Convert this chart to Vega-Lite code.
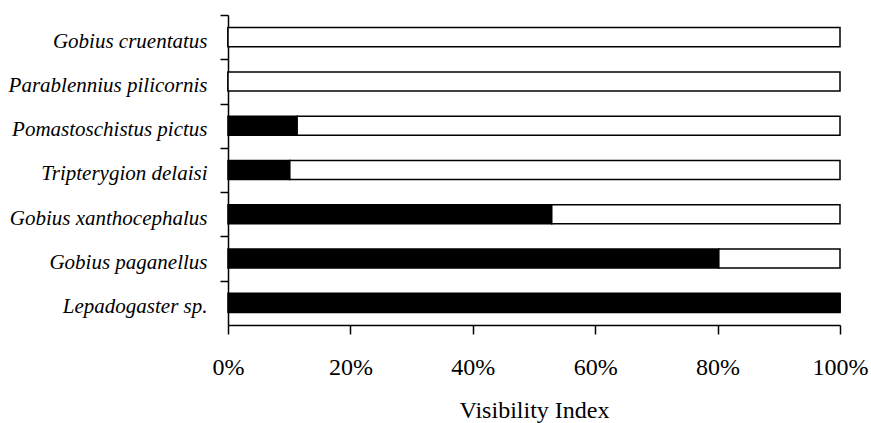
{
  "$schema": "https://vega.github.io/schema/vega-lite/v6.json",
  "autosize": "none",
  "width": 612,
  "height": 310,
  "padding": {"left": 228, "top": 15, "right": 31, "bottom": 98},
  "background": "white",
  "data": {
    "values": [
      {"species": "Gobius cruentatus", "part": "visible", "order": 1, "value": 0},
      {"species": "Gobius cruentatus", "part": "rest", "order": 2, "value": 100},
      {"species": "Parablennius pilicornis", "part": "visible", "order": 1, "value": 0},
      {"species": "Parablennius pilicornis", "part": "rest", "order": 2, "value": 100},
      {"species": "Pomastoschistus pictus", "part": "visible", "order": 1, "value": 11.3},
      {"species": "Pomastoschistus pictus", "part": "rest", "order": 2, "value": 88.7},
      {"species": "Tripterygion delaisi", "part": "visible", "order": 1, "value": 10.1},
      {"species": "Tripterygion delaisi", "part": "rest", "order": 2, "value": 89.9},
      {"species": "Gobius xanthocephalus", "part": "visible", "order": 1, "value": 52.9},
      {"species": "Gobius xanthocephalus", "part": "rest", "order": 2, "value": 47.1},
      {"species": "Gobius paganellus", "part": "visible", "order": 1, "value": 80.2},
      {"species": "Gobius paganellus", "part": "rest", "order": 2, "value": 19.8},
      {"species": "Lepadogaster sp.", "part": "visible", "order": 1, "value": 100},
      {"species": "Lepadogaster sp.", "part": "rest", "order": 2, "value": 0}
    ]
  },
  "mark": {"type": "bar", "stroke": "black", "strokeWidth": 1.5},
  "encoding": {
    "y": {
      "field": "species",
      "type": "nominal",
      "sort": null,
      "scale": {"paddingInner": 0.57, "paddingOuter": 0.285},
      "axis": {
        "title": null,
        "domainColor": "black",
        "domainWidth": 1.5,
        "ticks": true,
        "tickColor": "black",
        "tickWidth": 1.5,
        "tickSize": 8,
        "tickOffset": -22.14,
        "labelFont": "Liberation Serif",
        "labelFontStyle": "italic",
        "labelFontSize": 21,
        "labelColor": "black",
        "labelPadding": 13,
        "labelOffset": 26,
        "labelLimit": 300
      }
    },
    "x": {
      "field": "value",
      "type": "quantitative",
      "stack": "normalize",
      "scale": {"domain": [0, 1], "nice": false},
      "axis": {
        "title": "Visibility Index",
        "format": ".0%",
        "values": [0, 0.2, 0.4, 0.6, 0.8, 1],
        "grid": false,
        "labelFlush": false,
        "domainColor": "black",
        "domainWidth": 1.5,
        "tickColor": "black",
        "tickWidth": 1.5,
        "tickSize": 9,
        "labelFont": "Liberation Serif",
        "labelFontSize": 24,
        "labelColor": "black",
        "labelPadding": 21,
        "titleFont": "Liberation Serif",
        "titleFontSize": 24,
        "titleFontWeight": "normal",
        "titleColor": "black",
        "titlePadding": 19
      }
    },
    "color": {
      "field": "part",
      "type": "nominal",
      "scale": {"domain": ["visible", "rest"], "range": ["black", "white"]},
      "legend": null
    },
    "order": {"field": "order", "type": "quantitative"}
  },
  "config": {"view": {"stroke": null}}
}
